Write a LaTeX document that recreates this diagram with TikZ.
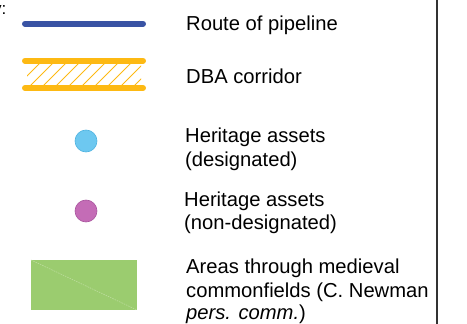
\documentclass[tikz,border=0pt]{standalone}
\usepackage{fontspec}
\setmainfont{Liberation Sans}
\definecolor{pipeblue}{HTML}{3953A4}
\definecolor{dbaorange}{HTML}{FDB913}
\definecolor{desblue}{HTML}{6DC8F0}
\definecolor{desblueedge}{HTML}{4FB3E0}
\definecolor{nondes}{HTML}{C46CB6}
\definecolor{nondesedge}{HTML}{A9559E}
\definecolor{fieldgreen}{HTML}{9BCC6F}
\definecolor{fieldline}{HTML}{BDDD9E}
\definecolor{frameline}{HTML}{333333}
\begin{document}
\begin{tikzpicture}[x=1pt,y=-1pt,
  lbl/.style={anchor=base west,inner sep=0pt,font=\fontsize{20.2}{24}\selectfont,text=black},
  pipe/.style={line width=6pt,line cap=round,pipeblue},
  corridor/.style={line width=6pt,line cap=round,dbaorange},
  hatchline/.style={line width=0.9pt,dbaorange}]
\useasboundingbox (0,0) rectangle (467,324);
% partial key title
\node[anchor=base east,inner sep=0pt,font=\fontsize{17}{20}\selectfont] (key) at (6.5,14.5) {Key:};
% frame line
\draw[line width=2pt,frameline] (436.5,-2) -- (436.5,326);
% pipeline
\draw[pipe] (25,23.7) -- (143,23.7);
\node[lbl] (route) at (186,30.5) {Route of pipeline};
% DBA corridor
\begin{scope}
  \clip (27,62) rectangle (141,87);
  \foreach \s in {2,15,...,158} {
    \draw[hatchline] (\s,88) -- ++(28,-28);
  }
\end{scope}
\draw[corridor] (25,60.7) -- (143,60.7);
\draw[corridor] (25,88) -- (143,88);
\node[lbl] (dba) at (186,83.5) {DBA corridor};
% designated
\filldraw[fill=desblue,draw=desblueedge,line width=0.6pt] (86,141) circle (11);
\node[lbl] (des1) at (185,142) {Heritage assets};
\node[lbl] (des2) at (185,166.5) {(designated)};
% non-designated
\filldraw[fill=nondes,draw=nondesedge,line width=0.6pt] (86,211) circle (11);
\node[lbl] (nd1) at (184,206) {Heritage assets};
\node[lbl] (nd2) at (184,229.5) {(non-designated)};
% commonfields
\fill[fieldgreen] (31,260) rectangle (137,310);
\draw[fieldline,line width=0.6pt,dash pattern=on 1.5pt off 1pt] (31,260) -- (137,310);
\node[lbl] (cf1) at (186,273.5) {Areas through medieval};
\node[lbl] (cf2) at (186,297.5) {commonfields (C. Newman};
\node[lbl] (cf3) at (186,319.5) {\textit{pers. comm.})};
\end{tikzpicture}
\end{document}
